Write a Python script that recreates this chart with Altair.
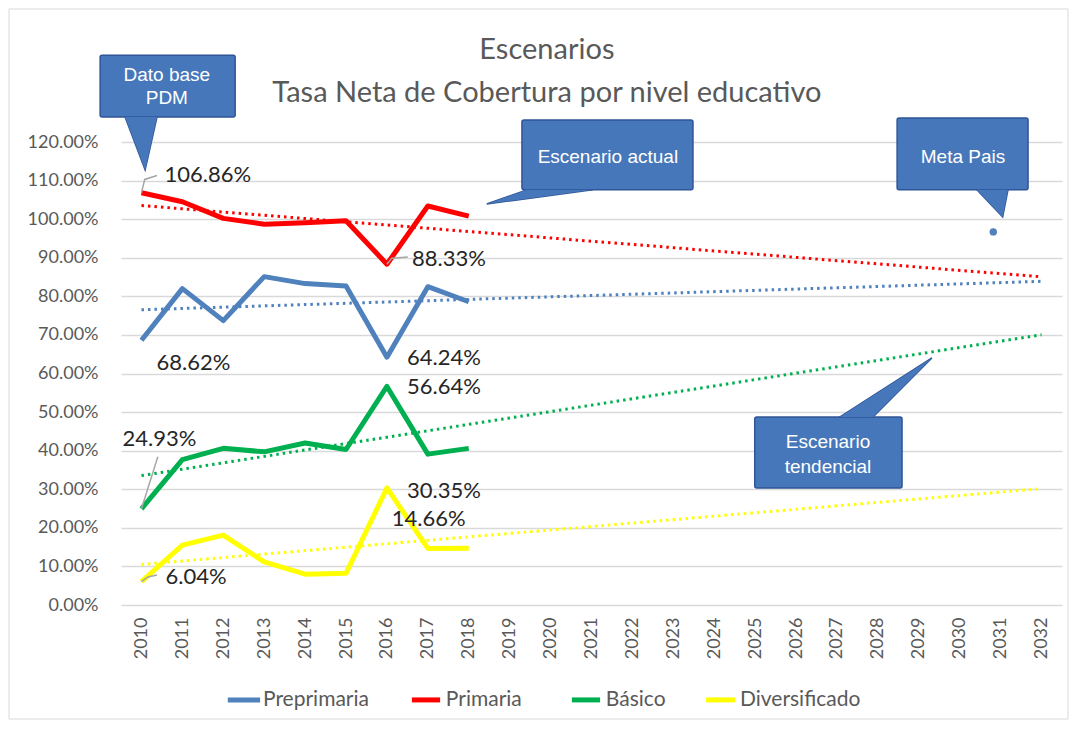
import altair as alt
import pandas as pd

# ---- data ----
years = [2010, 2011, 2012, 2013, 2014, 2015, 2016, 2017, 2018]
preprimaria = [68.62, 82.0, 73.7, 85.1, 83.3, 82.7, 64.24, 82.5, 78.6]
primaria = [106.86, 104.5, 100.2, 98.7, 99.1, 99.6, 88.33, 103.4, 100.8]
basico = [24.93, 37.7, 40.6, 39.7, 42.0, 40.3, 56.64, 39.1, 40.6]
diversificado = [6.04, 15.5, 18.1, 11.2, 8.0, 8.2, 30.35, 14.66, 14.7]

series_names = ["Preprimaria", "Primaria", "Básico", "Diversificado"]
series_colors = ["#4F81BD", "#FF0000", "#00B050", "#FFFF00"]
axis_years = list(range(2010, 2033))
y_ticks = list(range(0, 121, 10))
trend_extent = [2010, 2032]

meta_year = [2030.82]
meta_value = [96.7]

title_lines = ["Escenarios", "Tasa Neta de Cobertura  por nivel educativo"]
title_x = [2019.91, 2019.91]
title_y = [143.9, 132.7]

# labelled points: (series, year)
label_series = ["Primaria", "Primaria", "Preprimaria", "Preprimaria", "Básico",
                "Básico", "Diversificado", "Diversificado", "Diversificado"]
label_years = [2010, 2016, 2010, 2016, 2016, 2010, 2016, 2017, 2010]
label_dx = [23, 25, 15, 20, 20, -19, 20, -36, 24]
label_dy = [-18, -5, 23, 1, 1, -70, 3, -29, -5]

# leader lines (data coordinates)
leader_id = [1, 1, 1, 2, 2, 2, 3, 3, 4, 4, 4]
leader_x = [2010.0, 2010.08, 2010.38, 2016.0, 2016.12, 2016.51, 2010.0, 2010.40, 2010.0, 2010.16, 2010.38]
leader_y = [106.86, 110.3, 111.3, 88.33, 89.9, 90.2, 24.93, 38.4, 6.04, 7.26, 7.8]

# callout boxes (data coordinates)
box_x1 = [2008.99, 2019.30, 2028.47, 2024.99]
box_x2 = [2012.29, 2023.48, 2031.67, 2028.59]
box_y1 = [142.5, 125.7, 126.2, 48.7]
box_y2 = [126.5, 107.6, 107.6, 30.3]

# pointers pointing down (vertical area): id, x, y, y2
pv_id = [1, 1, 1, 3, 3, 3]
pv_x = [2009.60, 2010.09, 2010.38, 2030.42, 2031.05, 2031.18]
pv_y = [126.5, 112.75, 126.5, 107.6, 100.57, 107.6]
pv_y2 = [126.5, 126.5, 126.5, 107.6, 107.6, 107.6]

# pointers sideways / up (horizontal area): id, y, x, x2
ph_id = [2, 2, 4, 4]
ph_y = [103.94, 107.6, 48.73, 64.02]
ph_x = [2018.44, 2019.42, 2027.07, 2029.32]
ph_x2 = [2018.44, 2021.03, 2027.88, 2029.32]

callout_text = ["Dato base", "PDM", "Escenario actual", "Meta  Pais", "Escenario", "tendencial"]
callout_x = [2010.62, 2010.62, 2021.40, 2030.08, 2026.78, 2026.78]
callout_y = [137.4, 131.4, 116.1, 116.1, 42.3, 35.8]

# legend placement below the axis (data coordinates)
legend_sym_x1 = [2012.11, 2016.61, 2020.52, 2023.80]
legend_sym_x2 = [2012.90, 2017.30, 2021.21, 2024.51]
legend_text_x = [2012.97, 2017.44, 2021.35, 2024.63]
legend_row_y = -24.6

# ---- tables ----
series_values = {"Preprimaria": preprimaria, "Primaria": primaria,
                 "Básico": basico, "Diversificado": diversificado}
rows = []
for s in series_names:
    for yr, v in zip(years, series_values[s]):
        rows.append({"series": s, "year": yr, "value": v})
df = pd.DataFrame(rows)

XSCALE = alt.Scale(domain=[2009.5, 2032.5], nice=False, zero=False)
YSCALE = alt.Scale(domain=[0, 120], nice=False, zero=False)

X_AXIS = alt.Axis(values=axis_years, format="d", labelAngle=270, labelAlign="right",
                  labelBaseline="middle", labelFontSize=18, labelColor="#595959",
                  labelFont="Lato", labelPadding=12, ticks=False, domain=False,
                  grid=False, title=None, labelOverlap=False)
Y_AXIS = alt.Axis(values=y_ticks, labelExpr="format(datum.value, '.2f') + '%'",
                  labelFontSize=18, labelColor="#595959", labelFont="Lato",
                  labelPadding=23, ticks=False, domain=False, grid=True,
                  gridColor="#D9D9D9", gridWidth=1.5, title=None)


def X(field, **kw):
    return alt.X(field, type="quantitative", scale=XSCALE, axis=X_AXIS, title=None, **kw)


def Y(field, **kw):
    return alt.Y(field, type="quantitative", scale=YSCALE, axis=Y_AXIS, title=None, **kw)


COLOR = alt.Color("series:N",
                  scale=alt.Scale(domain=series_names, range=series_colors),
                  sort=series_names, legend=None)

frame = alt.Chart(pd.DataFrame({"k": [0]})).mark_rect(
    fillOpacity=0, stroke="#D9D9D9", strokeWidth=1
).encode(x=alt.value(-112), x2=alt.value(947), y=alt.value(-133), y2=alt.value(577))

title = alt.Chart(pd.DataFrame({"t": title_lines, "tx": title_x, "ty": title_y})).mark_text(
    align="center", baseline="middle", font="Lato", fontSize=29, color="#595959"
).encode(x=X("tx"), y=Y("ty"), text="t:N")

lines = alt.Chart(df).mark_line(strokeWidth=5, strokeJoin="round").encode(
    x=X("year"), y=Y("value"), color=COLOR, order=alt.Order("year:Q")
)

trends = alt.Chart(df).transform_regression(
    "year", "value", groupby=["series"], extent=trend_extent, method="linear"
).mark_line(strokeWidth=3, strokeDash=[2.5, 4]).encode(
    x=X("year"), y=Y("value"), color=COLOR
)

leaders = alt.Chart(pd.DataFrame({"id": leader_id, "lx": leader_x, "ly": leader_y})).mark_line(
    color="#A6A6A6", strokeWidth=1.5
).encode(x=X("lx"), y=Y("ly"), detail="id:N", order=alt.Order("lx:Q"))

label_layers = []
for s, yr, dx, dy in zip(label_series, label_years, label_dx, label_dy):
    sub = df[(df.series == s) & (df.year == yr)]
    label_layers.append(
        alt.Chart(sub).transform_calculate(
            txt="format(datum.value, '.2f') + '%'"
        ).mark_text(align="left", baseline="middle", dx=dx, dy=dy, font="Lato",
                    fontSize=22, color="#262626").encode(
            x=X("year"), y=Y("value"), text="txt:N")
    )

boxes_df = pd.DataFrame({"bx1": box_x1, "bx2": box_x2, "by1": box_y1, "by2": box_y2})
pv_df = pd.DataFrame({"id": pv_id, "px": pv_x, "py": pv_y, "py2": pv_y2})
ph_df = pd.DataFrame({"id": ph_id, "qy": ph_y, "qx": ph_x, "qx2": ph_x2})

BOX_FILL = "#4677BA"
BOX_STROKE = "#2F5597"

ptr_v = alt.Chart(pv_df).mark_area(fill=BOX_FILL, stroke=BOX_STROKE, strokeWidth=1.5).encode(
    x=X("px"), y=Y("py"), y2="py2", detail="id:N")
ptr_h = alt.Chart(ph_df).mark_area(fill=BOX_FILL, stroke=BOX_STROKE, strokeWidth=1.5,
                                   orient="horizontal").encode(
    y=Y("qy"), x=X("qx"), x2="qx2", detail="id:N")
boxes = alt.Chart(boxes_df).mark_rect(fill=BOX_FILL, stroke=BOX_STROKE, strokeWidth=1.5,
                                      cornerRadius=2).encode(
    x=X("bx1"), x2="bx2", y=Y("by1"), y2="by2")
ptr_v2 = alt.Chart(pv_df).mark_area(fill=BOX_FILL).encode(
    x=X("px"), y=Y("py"), y2="py2", detail="id:N")
ptr_h2 = alt.Chart(ph_df).mark_area(fill=BOX_FILL, orient="horizontal").encode(
    y=Y("qy"), x=X("qx"), x2="qx2", detail="id:N")

callouts = alt.Chart(pd.DataFrame({"t": callout_text, "cx": callout_x, "cy": callout_y})).mark_text(
    align="center", baseline="middle", font="Liberation Sans", fontSize=19,
    color="#FFFFFF").encode(x=X("cx"), y=Y("cy"), text="t:N")

meta = alt.Chart(pd.DataFrame({"my": meta_year, "mv": meta_value})).mark_circle(
    size=55, color="#4F81BD", opacity=1).encode(x=X("my"), y=Y("mv"))

legend_df = pd.DataFrame({"series": series_names, "sx1": legend_sym_x1, "sx2": legend_sym_x2,
                          "tx": legend_text_x, "ly": [legend_row_y] * 4})
legend_sym = alt.Chart(legend_df).mark_rule(strokeWidth=5).encode(
    x=X("sx1"), x2="sx2", y=Y("ly"), color=COLOR)
legend_txt = alt.Chart(legend_df).mark_text(
    align="left", baseline="middle", font="Lato", fontSize=21, color="#595959"
).encode(x=X("tx"), y=Y("ly"), text="series:N")

chart = alt.layer(
    frame, title, lines, trends, leaders, *label_layers,
    ptr_v, ptr_h, boxes, ptr_v2, ptr_h2, callouts, meta, legend_sym, legend_txt
).properties(
    width=941, height=463,
    padding={"left": 113, "top": 134, "right": 8, "bottom": 115},
    autosize=alt.AutoSizeParams(type="none"),
    background="#FFFFFF",
).configure_view(stroke="transparent")

chart.save("out.html", embed_options={"renderer": "svg", "actions": False})
